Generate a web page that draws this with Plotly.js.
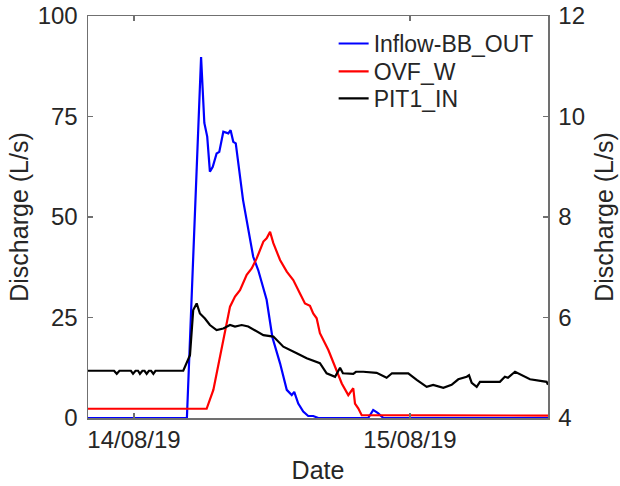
<!DOCTYPE html>
<html>
<head>
<meta charset="utf-8">
<script src="https://cdn.plot.ly/plotly-3.0.1.min.js"></script>
<style>html,body{margin:0;padding:0;background:#fff;}#chart{width:620px;height:486px;}</style>
</head>
<body>
<div id="chart"></div>
<script>
// Inflow-BB_OUT (left axis, L/s)
const inflowTime = ['2019-08-13 20:00','2019-08-14 04:36','2019-08-14 05:50','2019-08-14 06:07','2019-08-14 06:22','2019-08-14 06:36','2019-08-14 06:51','2019-08-14 07:11','2019-08-14 07:25','2019-08-14 07:46','2019-08-14 08:12','2019-08-14 08:24','2019-08-14 08:38','2019-08-14 08:51','2019-08-14 09:29','2019-08-14 10:22','2019-08-14 10:48','2019-08-14 11:14','2019-08-14 11:32','2019-08-14 12:02','2019-08-14 12:42','2019-08-14 13:17','2019-08-14 13:43','2019-08-14 13:56','2019-08-14 14:17','2019-08-14 14:43','2019-08-14 15:09','2019-08-14 15:35','2019-08-14 16:02','2019-08-14 20:22','2019-08-14 20:48','2019-08-14 21:13','2019-08-14 21:41','2019-08-15 12:00'];
const inflowVal = [0,0,89.8,73.4,70,61.3,62.5,65.8,66.2,71.2,70.8,71.6,68.7,68.3,54.2,40.1,36.8,32.7,29.4,20.1,13.6,7.0,5.7,6.5,3.6,1.6,0.5,0.5,0,0,2.0,1.2,0,0];

// OVF_W (left axis, L/s)
const ovfTime = ['2019-08-13 20:00','2019-08-14 06:19','2019-08-14 06:54','2019-08-14 07:29','2019-08-14 07:55','2019-08-14 08:21','2019-08-14 08:47','2019-08-14 09:13','2019-08-14 09:48','2019-08-14 10:14','2019-08-14 10:40','2019-08-14 11:15','2019-08-14 11:32','2019-08-14 11:50','2019-08-14 12:07','2019-08-14 12:42','2019-08-14 13:17','2019-08-14 13:51','2019-08-14 14:26','2019-08-14 14:52','2019-08-14 15:18','2019-08-14 15:35','2019-08-14 15:53','2019-08-14 16:10','2019-08-14 16:54','2019-08-14 17:29','2019-08-14 18:04','2019-08-14 18:38','2019-08-14 19:04','2019-08-14 19:13','2019-08-14 19:30','2019-08-14 19:48','2019-08-15 12:00'];
const ovfVal = [2.3,2.3,7.0,15.2,21.9,27.7,30.2,31.8,35.6,37.2,39.7,43.9,44.7,46.3,43.5,39.3,36.4,34.3,31.0,28.5,27.9,26.0,24.8,21.1,16.9,12.8,8.6,5.7,7.4,3.6,2.4,0.7,0.6];

// PIT1_IN (right axis, L/s)
const pitTime = ['2019-08-13 20:00','2019-08-13 22:16','2019-08-13 22:30','2019-08-13 22:44','2019-08-13 23:44','2019-08-13 23:55','2019-08-14 00:08','2019-08-14 00:21','2019-08-14 00:31','2019-08-14 00:44','2019-08-14 00:55','2019-08-14 01:06','2019-08-14 01:18','2019-08-14 01:29','2019-08-14 01:41','2019-08-14 01:52','2019-08-14 04:17','2019-08-14 04:52','2019-08-14 05:09','2019-08-14 05:27','2019-08-14 05:44','2019-08-14 06:10','2019-08-14 06:36','2019-08-14 07:11','2019-08-14 07:46','2019-08-14 08:21','2019-08-14 08:47','2019-08-14 09:22','2019-08-14 09:56','2019-08-14 10:40','2019-08-14 11:15','2019-08-14 12:07','2019-08-14 12:59','2019-08-14 14:09','2019-08-14 15:01','2019-08-14 16:10','2019-08-14 16:45','2019-08-14 17:29','2019-08-14 17:55','2019-08-14 18:10','2019-08-14 19:04','2019-08-14 19:18','2019-08-14 19:56','2019-08-14 21:06','2019-08-14 21:58','2019-08-14 22:26','2019-08-14 23:25','2019-08-14 23:51','2019-08-15 00:35','2019-08-15 01:27','2019-08-15 02:01','2019-08-15 02:54','2019-08-15 03:37','2019-08-15 04:12','2019-08-15 04:56','2019-08-15 05:08','2019-08-15 05:22','2019-08-15 05:48','2019-08-15 06:05','2019-08-15 07:49','2019-08-15 08:15','2019-08-15 08:31','2019-08-15 09:08','2019-08-15 10:00','2019-08-15 10:26','2019-08-15 11:53','2019-08-15 12:00'];
const pitVal = [4.94,4.94,4.88,4.94,4.94,4.88,4.94,4.94,4.88,4.94,4.94,4.88,4.94,4.94,4.88,4.94,4.94,5.25,6.15,6.28,6.08,5.98,5.85,5.75,5.78,5.85,5.82,5.85,5.82,5.72,5.65,5.62,5.42,5.29,5.19,5.09,4.89,4.82,5.0,4.89,4.88,4.92,4.92,4.9,4.80,4.89,4.88,4.89,4.76,4.62,4.66,4.6,4.66,4.77,4.82,4.85,4.70,4.62,4.72,4.72,4.82,4.80,4.92,4.82,4.77,4.72,4.66];

const seriesNames = ['Inflow-BB_OUT','OVF_W','PIT1_IN'];
const leftTicks = [0,25,50,75,100];
const rightTicks = [4,6,8,10,12];
const dateTicks = ['2019-08-14','2019-08-15'];
const dateLabels = ['14/08/19','15/08/19'];
const xRange = ['2019-08-13 20:00','2019-08-15 12:00'];

const FONT = 'Liberation Sans, Arial, sans-serif';
const TXT = '#262626';
const AX = '#707070';
const FS = 24;
const TFS = 25;

const traces = [
  {x: inflowTime, y: inflowVal, name: seriesNames[0], type: 'scatter', mode: 'lines', line: {color: '#0000ff', width: 2.2}, yaxis: 'y', legend: 'legend'},
  {x: ovfTime, y: ovfVal, name: seriesNames[1], type: 'scatter', mode: 'lines', line: {color: '#ff0000', width: 2.2}, yaxis: 'y', legend: 'legend2'},
  {x: pitTime, y: pitVal, name: seriesNames[2], type: 'scatter', mode: 'lines', line: {color: '#000000', width: 2.2}, yaxis: 'y2', legend: 'legend3'}
];

function leg(y) {
  return {x: 0.534, y: y, xanchor: 'left', yanchor: 'top', bgcolor: 'rgba(0,0,0,0)', font: {size: 23, color: TXT}};
}

const layout = {
  width: 620, height: 486,
  margin: {l: 88, r: 72, t: 16, b: 68},
  paper_bgcolor: '#fff', plot_bgcolor: '#fff',
  font: {family: FONT, size: FS, color: TXT},
  showlegend: true,
  legend: leg(0.985),
  legend2: leg(0.9154),
  legend3: leg(0.8483),
  xaxis: {
    type: 'date', range: xRange, tickvals: dateTicks, ticktext: dateLabels,
    showgrid: false, zeroline: false, showline: true, linecolor: AX, linewidth: 1.5,
    mirror: 'ticks', ticks: 'inside', ticklen: 5, tickcolor: AX, tickwidth: 1.5,
    title: {text: 'Date', font: {size: TFS, color: TXT}, standoff: 9},
    tickfont: {size: FS, color: TXT}
  },
  yaxis: {
    range: [0, 100], tickvals: leftTicks, showgrid: false, zeroline: false,
    showline: true, linecolor: AX, linewidth: 1.5, ticks: 'inside', ticklen: 5, tickcolor: AX, tickwidth: 1.5,
    ticklabelstandoff: 4,
    title: {text: 'Discharge (L/s)', font: {size: TFS, color: TXT}, standoff: 2},
    tickfont: {size: FS, color: TXT}
  },
  yaxis2: {
    range: [4, 12], tickvals: rightTicks, overlaying: 'y', side: 'right', showgrid: false, zeroline: false,
    showline: true, linecolor: AX, linewidth: 1.5, ticks: 'inside', ticklen: 5, tickcolor: AX, tickwidth: 1.5,
    ticklabelstandoff: 4,
    title: {text: 'Discharge (L/s)', font: {size: TFS, color: TXT}, standoff: 11},
    tickfont: {size: FS, color: TXT}
  }
};

Plotly.newPlot('chart', traces, layout, {displayModeBar: false, staticPlot: true});
</script>
</body>
</html>
